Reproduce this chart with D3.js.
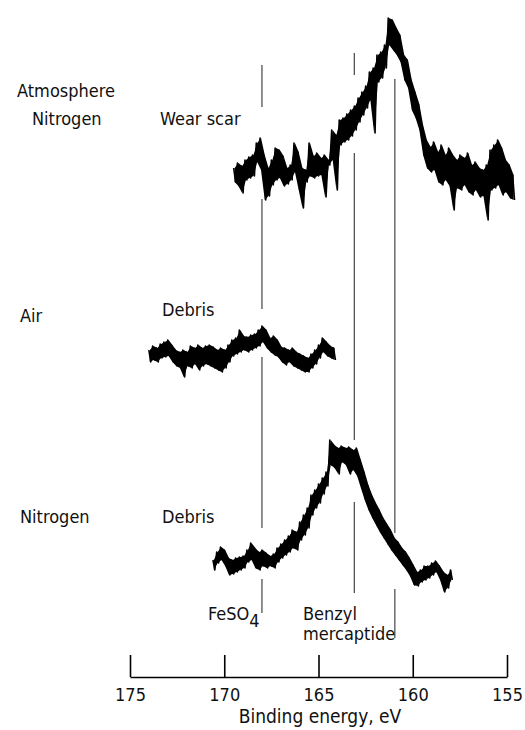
<!DOCTYPE html>
<html>
<head>
<meta charset="utf-8">
<script src="https://cdn.jsdelivr.net/npm/d3@7"></script>
<style>
  body { margin: 0; background: #fff; }
  svg { display: block; }
  text { font-family: "DejaVu Sans Condensed", "DejaVu Sans", sans-serif; fill: #111; }
</style>
</head>
<body>
<div id="chart"></div>
<script>
var w = 525;
var h = 730;

// binding energy axis
var tickValues = [175, 170, 165, 160, 155];
var step = 0.1; // eV between samples

// wear scar, nitrogen (starts at 169.5 eV); samples alternate top / bottom of the noise band
var wearStart = 169.5;
var wearBase = 476;
var wearScar = [32, 18, 37, 14, 34, 7, 40, 20, 43, 22, 45, 24, 57, 38, 62, 30, 45, 0, 32, 4,
    40, 15, 52, 20, 50, 22, 44, 14, 32, 16, 35, 20, 57, 28, 48, 10, 32, -8, 30, 18,
    57, 24, 44, 22, 47, 24, 42, 25, 45, 3, 40, 35, 70, 40, 65, 10, 80, 55, 82, 58,
    86, 60, 90, 64, 94, 70, 102, 78, 108, 85, 114, 92, 128, 100, 132, 67, 145, 118, 148, 122,
    155, 132, 182, 155, 180, 150, 172, 145, 165, 138, 145, 120, 140, 112, 120, 90, 108, 82, 96, 70,
    75, 45, 60, 32, 53, 28, 58, 30, 48, 18, 55, 15, 45, 20, 52, 14, 45, -10, 40, 12,
    45, 10, 42, 15, 47, 8, 35, 5, 38, 10, 32, 3, 30, 4, 35, -20, 50, 10, 55, 12,
    60, 15, 52, 5, 40, 8, 35, 2, 25, 0];

// debris, air (starts at 174.0 eV)
var airStart = 174.0;
var airBase = 296;
var airDebris = [30, 18, 34, 20, 32, 18, 36, 22, 38, 23, 40, 24, 35, 18, 30, 14, 28, 12, 30, 3,
    28, 14, 34, 12, 32, 16, 35, 10, 32, 14, 34, 16, 35, 14, 33, 12, 30, 10, 32, 8,
    30, 12, 35, 18, 40, 24, 42, 26, 50, 28, 44, 30, 43, 28, 45, 30, 46, 32, 50, 34,
    54, 38, 50, 32, 42, 28, 44, 25, 40, 23, 33, 18, 32, 15, 30, 18, 32, 14, 28, 12,
    26, 10, 24, 8, 22, 8, 26, 12, 30, 16, 35, 22, 42, 28, 38, 24, 34, 22, 32, 20];

// debris, nitrogen (starts at 170.6 eV)
var nitroStart = 170.6;
var nitroBase = 86;
var nitroDebris = [30, 20, 38, 27, 43, 30, 40, 24, 32, 15, 30, 16, 32, 18, 33, 20, 34, 22, 40, 28,
    47, 30, 42, 22, 38, 20, 40, 24, 37, 22, 34, 24, 36, 22, 42, 28, 46, 32, 50, 35,
    54, 38, 60, 42, 58, 40, 68, 50, 75, 55, 82, 62, 95, 75, 100, 82, 106, 87, 112, 96,
    118, 104, 150, 125, 145, 122, 142, 116, 144, 128, 142, 125, 143, 116, 140, 120, 142, 114, 130, 102,
    118, 90, 105, 80, 95, 72, 87, 65, 80, 58, 72, 52, 66, 46, 60, 40, 52, 35, 48, 30,
    42, 25, 38, 20, 32, 14, 25, 5, 18, 4, 20, 8, 24, 10, 24, 12, 27, 15, 29, 18,
    24, 10, 18, -2, 15, 2, 20, 10];

// reference lines: FeSO4, benzyl mercaptide, third line
var refEnergies = [168, 163.1, 160.95];
var refSegments = [
    [[611, 569], [477, 367], [319, 148], [97, 63]],
    [[623, 601], [523, 236], [174, 83]],
    [[597, 143], [87, 38]]
];

var x = d3.scaleLinear().domain([175, 155]).range([130, 507]);
var y = d3.scaleLinear().domain([0, 660]).range([676, 16]);

var svg = d3.select("#chart")
    .append("svg")
    .attr("width", w)
    .attr("height", h);

// vertical reference lines
refEnergies.forEach(function (e, k) {
    svg.selectAll(".ref" + k)
        .data(refSegments[k])
        .enter()
        .append("line")
        .attr("x1", x(e))
        .attr("x2", x(e))
        .attr("y1", function (d) { return y(d[0]); })
        .attr("y2", function (d) { return y(d[1]); })
        .attr("stroke", "#444")
        .attr("stroke-width", 1.2);
});

var line = d3.line()
    .x(function (d) { return x(d.e); })
    .y(function (d) { return y(d.v); });

var band = d3.area()
    .x(function (d) { return x(d.e); })
    .y0(function (d) { return y(d.lo); })
    .y1(function (d) { return y(d.hi); });

function spectrum(values, start, base) {
    return values.map(function (v, i) {
        return {e: start - i * step, v: base + v};
    });
}

// pair each top sample with the bottom sample after it
function pairs(pts) {
    var out = [];
    for (var i = 0; i + 1 < pts.length; i += 2) {
        out.push({
            e: (pts[i].e + pts[i + 1].e) / 2,
            hi: Math.max(pts[i].v, pts[i + 1].v),
            lo: Math.min(pts[i].v, pts[i + 1].v)
        });
    }
    return out;
}

[[wearScar, wearStart, wearBase], [airDebris, airStart, airBase], [nitroDebris, nitroStart, nitroBase]]
    .forEach(function (s) {
        var pts = spectrum(s[0], s[1], s[2]);
        svg.append("path")
            .datum(pairs(pts))
            .attr("d", band)
            .attr("fill", "#000");
        svg.append("path")
            .datum(pts)
            .attr("d", line)
            .attr("fill", "none")
            .attr("stroke", "#000")
            .attr("stroke-width", 1.6)
            .attr("stroke-linejoin", "round");
    });

// axis
var axis = d3.axisBottom(x)
    .tickValues(tickValues)
    .tickSize(-22)
    .tickSizeOuter(0)
    .tickPadding(11);

var g = svg.append("g")
    .attr("transform", "translate(0,677)")
    .call(axis);
g.select(".domain").attr("stroke", "#000").attr("stroke-width", 1.6);
g.selectAll(".tick line").attr("stroke", "#000").attr("stroke-width", 1.6);
g.selectAll(".tick text")
    .attr("font-family", "DejaVu Sans Condensed")
    .attr("font-size", 18)
    .attr("fill", "#111");

svg.append("text")
    .attr("x", 320)
    .attr("y", 723)
    .attr("text-anchor", "middle")
    .attr("font-size", 19)
    .text("Binding energy, eV");

// labels
var labels = [
    ["Atmosphere", 17, 97],
    ["Nitrogen", 32, 125],
    ["Wear scar", 160, 125],
    ["Air", 20, 322],
    ["Debris", 162, 316],
    ["Nitrogen", 20, 523],
    ["Debris", 162, 523],
    ["Benzyl", 303, 620],
    ["mercaptide", 303, 640]
];
svg.selectAll(".lbl")
    .data(labels)
    .enter()
    .append("text")
    .attr("x", function (d) { return d[1]; })
    .attr("y", function (d) { return d[2]; })
    .attr("font-size", 18)
    .text(function (d) { return d[0]; });

var fe = svg.append("text")
    .attr("x", 208)
    .attr("y", 620)
    .attr("font-size", 18);
fe.append("tspan").text("FeSO");
fe.append("tspan").attr("dy", 7).text("4");
</script>
</body>
</html>
